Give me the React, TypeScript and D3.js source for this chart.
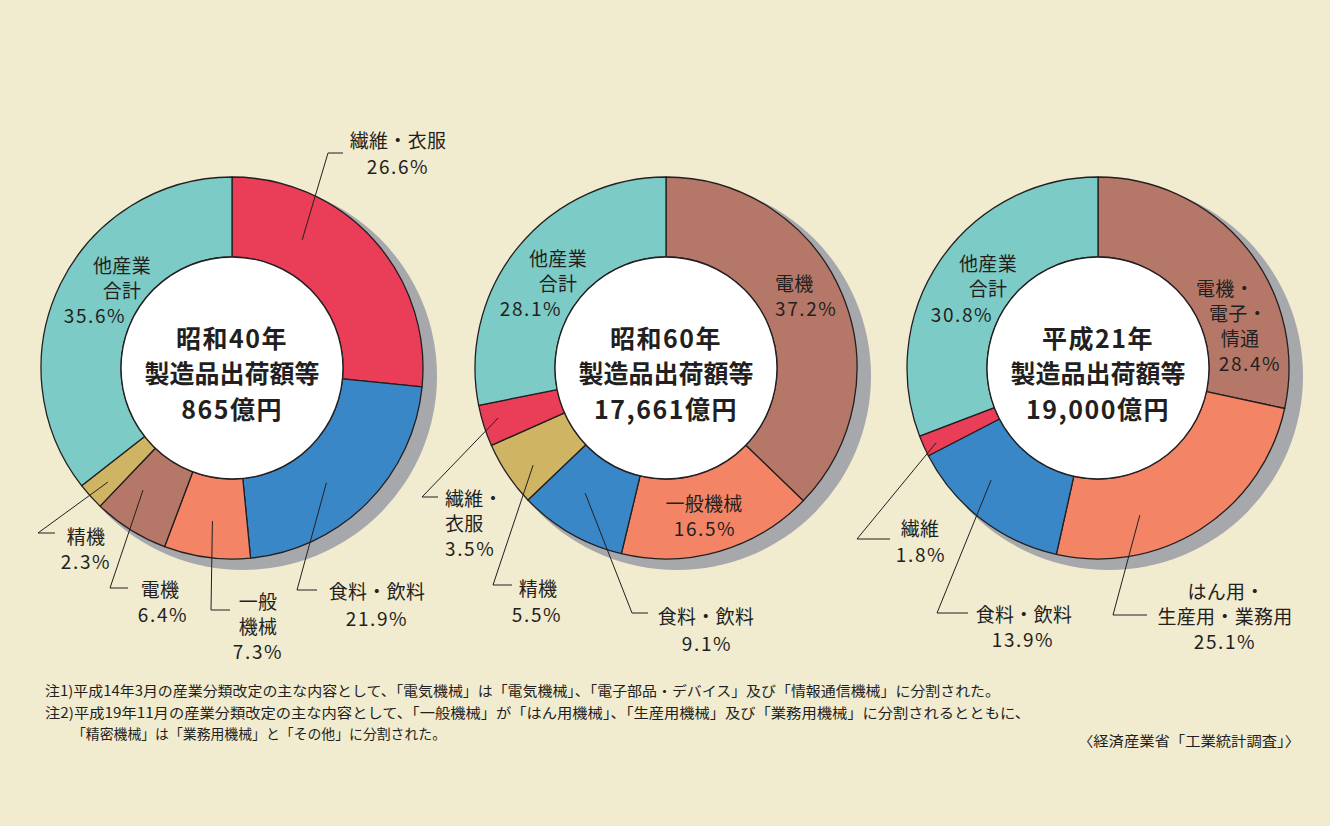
import { useEffect, useRef } from 'react'
import * as d3 from 'd3'

// 業種ごとの色
const colorOf: Record<string, string> = {
  textile: '#e93d58',
  food: '#3a87c8',
  machine: '#f38466',
  electric: '#b57868',
  precision: '#cfb464',
  other: '#7dcbc6',
}

const chartYears = ['昭和40年', '昭和60年', '平成21年']
const chartSubtitle = '製造品出荷額等'
const chartTotals = ['865億円', '17,661億円', '19,000億円']

// 昭和40年
const s40Keys = ['textile', 'food', 'machine', 'electric', 'precision', 'other']
const s40Names = [['繊維・衣服'], ['食料・飲料'], ['一般', '機械'], ['電機'], ['精機'], ['他産業', '合計']]
const s40Values = [26.6, 21.9, 7.3, 6.4, 2.3, 35.6]

// 昭和60年
const s60Keys = ['electric', 'machine', 'food', 'precision', 'textile', 'other']
const s60Names = [['電機'], ['一般機械'], ['食料・飲料'], ['精機'], ['繊維・', '衣服'], ['他産業', '合計']]
const s60Values = [37.2, 16.5, 9.1, 5.5, 3.5, 28.1]

// 平成21年
const h21Keys = ['electric', 'machine', 'food', 'textile', 'other']
const h21Names = [['電機・', '電子・', '情通'], ['はん用・', '生産用・業務用'], ['食料・飲料'], ['繊維'], ['他産業', '合計']]
const h21Values = [28.4, 25.1, 13.9, 1.8, 30.8]

const notes = [
  '注1)平成14年3月の産業分類改定の主な内容として、「電気機械」は「電気機械」、「電子部品・デバイス」及び「情報通信機械」に分割された。',
  '注2)平成19年11月の産業分類改定の主な内容として、「一般機械」が「はん用機械」、「生産用機械」及び「業務用機械」に分割されるとともに、',
  '「精密機械」は「業務用機械」と「その他」に分割された。',
]
const source = '〈経済産業省「工業統計調査」〉'

// ラベル配置（円の中心からの相対位置）
type Leader = { t: number; rr: number; elbow: [number, number]; end: [number, number] }
type LabelLayout = { xs: number[]; y0: number; lh: number; anchor?: string; leader?: Leader }

const layouts: LabelLayout[][] = [
  [
    { xs: [166, 166], y0: -229, lh: 26, leader: { t: 0.3, rr: 0.44, elbow: [96, -215], end: [111, -215] } },
    { xs: [145, 145], y0: 222, lh: 27, leader: { t: 0.57, rr: 0.47, elbow: [65, 222], end: [85, 222] } },
    { xs: [26, 26, 26], y0: 232, lh: 25, leader: { t: 0.49, rr: 0.54, elbow: [-21, 242], end: [-2, 242] } },
    { xs: [-72, -69], y0: 220, lh: 25, leader: { t: 0.67, rr: 0.5, elbow: [-122, 220], end: [-104, 220] } },
    { xs: [-146, -146], y0: 167, lh: 25, leader: { t: 0.45, rr: 0.72, elbow: [-194, 165], end: [-177, 165] } },
    { xs: [-110, -110, -137], y0: -104, lh: 25 },
  ],
  [
    { xs: [109, 109], y0: -86, lh: 25, anchor: 'start' },
    { xs: [38, 39], y0: 134, lh: 25 },
    { xs: [40, 41], y0: 247, lh: 27, leader: { t: 0.59, rr: 0.475, elbow: [-34, 245], end: [-18, 245] } },
    { xs: [-128, -129], y0: 219, lh: 26, leader: { t: 0.38, rr: 0.67, elbow: [-173, 217], end: [-154, 217] } },
    { xs: [-221, -221, -221], y0: 129, lh: 25, anchor: 'start', leader: { t: 0.58, rr: 0.8, elbow: [-244, 129], end: [-228, 129] } },
    { xs: [-108, -108, -135], y0: -111, lh: 25 },
  ],
  [
    { xs: [127, 140, 142, 152], y0: -81, lh: 25 },
    { xs: [128, 127, 127], y0: 222, lh: 25, leader: { t: 0.685, rr: 0.525, elbow: [15, 247], end: [49, 247] } },
    { xs: [-74, -75], y0: 245, lh: 25.5, leader: { t: 0.62, rr: 0.55, elbow: [-161, 245], end: [-130, 245] } },
    { xs: [-178, -177], y0: 159, lh: 26, leader: { t: 0.4, rr: 0.84, elbow: [-241, 171], end: [-208, 171] } },
    { xs: [-110, -110, -136], y0: -106, lh: 25.5 },
  ],
]

const charts = [
  { keys: s40Keys, names: s40Names, values: s40Values, cx: 232 },
  { keys: s60Keys, names: s60Names, values: s60Values, cx: 666 },
  { keys: h21Keys, names: h21Names, values: h21Values, cx: 1098 },
]

const W = 1330
const H = 826
const CY = 368
const R = 191
const R_IN = 111
const INK = '#231f20'
const FONT = '"Noto Sans CJK JP", "Noto Sans", sans-serif'

export default function App() {
  const svgRef = useRef<SVGSVGElement>(null)

  useEffect(() => {
    if (!svgRef.current) return
    const svg = d3.select(svgRef.current)
    svg.selectAll('*').remove()

    svg.append('rect').attr('width', W).attr('height', H).attr('fill', '#f1ebd0')

    const pie = d3.pie<number>().sort(null).value(d => d)
    const arc = d3.arc<d3.PieArcDatum<number>>().innerRadius(R_IN).outerRadius(R)

    charts.forEach((c, ci) => {
      const g = svg.append('g').attr('transform', `translate(${c.cx},${CY})`)
      const arcs = pie(c.values)

      // 影
      g.append('circle')
        .attr('cx', 11).attr('cy', 8).attr('r', R + 3)
        .attr('fill', '#a7a8ab')

      g.selectAll('.slice')
        .data(arcs)
        .enter().append('path')
        .attr('class', 'slice')
        .attr('d', arc)
        .attr('fill', (d, i) => colorOf[c.keys[i]])
        .attr('stroke', INK)
        .attr('stroke-width', 1.3)
        .attr('stroke-linejoin', 'round')

      g.append('circle')
        .attr('r', R_IN)
        .attr('fill', '#ffffff')
        .attr('stroke', INK)
        .attr('stroke-width', 1.3)

      // 中央のタイトル
      const centerLines = [chartYears[ci], chartSubtitle, chartTotals[ci]]
      centerLines.forEach((t, k) => {
        g.append('text')
          .attr('x', 0)
          .attr('y', [-31, 4, 40][k])
          .attr('text-anchor', 'middle')
          .attr('dominant-baseline', 'central')
          .style('font-family', FONT)
          .style('font-weight', 700)
          .style('font-size', '25px')
          .style('letter-spacing', k === 1 ? '0px' : '1.5px')
          .attr('fill', INK)
          .text(t)
      })

      // ラベル
      arcs.forEach((a, i) => {
        const lay = layouts[ci][i]
        const lines = [...c.names[i], `${c.values[i].toFixed(1)}%`]
        const anchor = lay.anchor || 'middle'
        lines.forEach((t, k) => {
          const isNum = /%$/.test(t)
          g.append('text')
            .attr('x', lay.xs[k] ?? lay.xs[lay.xs.length - 1])
            .attr('y', lay.y0 + k * lay.lh)
            .attr('text-anchor', anchor)
            .attr('dominant-baseline', 'central')
            .style('font-family', FONT)
            .style('font-size', '19px')
            .style('letter-spacing', isNum ? '1.6px' : '0.3px')
            .attr('fill', INK)
            .text(t)
        })

        if (lay.leader) {
          const L = lay.leader
          const ang = a.startAngle + L.t * (a.endAngle - a.startAngle)
          const rad = R_IN + L.rr * (R - R_IN)
          const start: [number, number] = [Math.sin(ang) * rad, -Math.cos(ang) * rad]
          g.append('path')
            .attr('d', d3.line()([start, L.elbow, L.end]))
            .attr('fill', 'none')
            .attr('stroke', INK)
            .attr('stroke-width', 1)
        }
      })
    })

    // 注記
    const noteG = svg.append('g')
      .style('font-family', FONT)
      .style('font-size', '14px')
      .attr('fill', INK)
    const noteSpecs = [
      { x: 45, y: 690, w: 955 },
      { x: 45, y: 712, w: 985 },
      { x: 72, y: 733, w: 374 },
    ]
    notes.forEach((t, i) => {
      noteG.append('text')
        .attr('x', noteSpecs[i].x)
        .attr('y', noteSpecs[i].y)
        .attr('dominant-baseline', 'central')
        .attr('textLength', noteSpecs[i].w)
        .attr('lengthAdjust', 'spacingAndGlyphs')
        .text(t)
    })
    noteG.append('text')
      .attr('x', 1078)
      .attr('y', 740)
      .attr('dominant-baseline', 'central')
      .attr('textLength', 222)
      .attr('lengthAdjust', 'spacingAndGlyphs')
      .text(source)
  }, [])

  return (
    <div style={{ position: 'absolute', left: 0, top: 0 }}>
      <svg ref={svgRef} width={W} height={H} style={{ display: 'block' }}></svg>
    </div>
  )
}
